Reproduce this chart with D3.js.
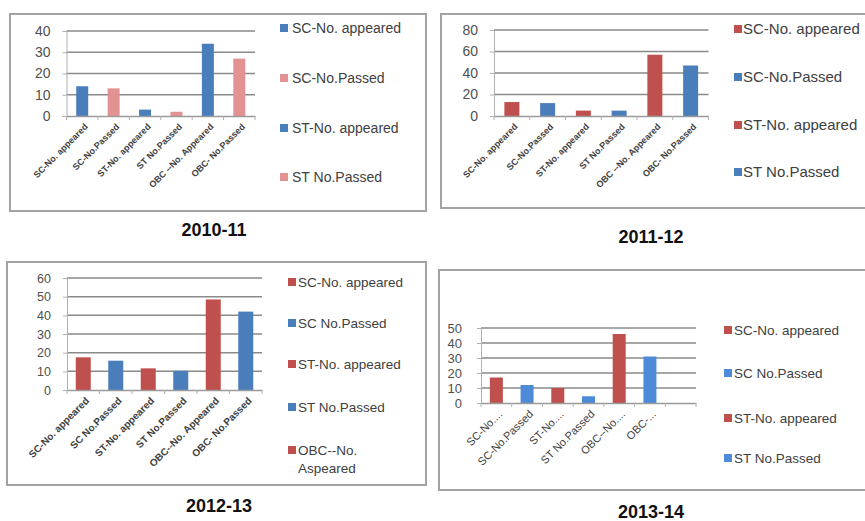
<!DOCTYPE html>
<html><head><meta charset="utf-8">
<script src="https://cdn.jsdelivr.net/npm/d3@7/dist/d3.min.js"></script>
<style>body{margin:0;background:#fff;} svg{display:block;}</style>
</head><body>
<svg id="c" width="865" height="521"></svg>
<script>
// ---- data ----
const years = ["2010-11", "2011-12", "2012-13", "2013-14"];

const cats1011 = ["SC-No. appeared", "SC-No.Passed", "ST-No. appeared", "ST No.Passed", "OBC --No. Appeared", "OBC- No.Passed"];
const vals1011 = [14, 13, 3, 2, 34, 27];
const ticks1011 = [0, 10, 20, 30, 40];
const legend1011 = ["SC-No. appeared", "SC-No.Passed", "ST-No. appeared", "ST No.Passed"];

const cats1112 = ["SC-No. appeared", "SC-No.Passed", "ST-No. appeared", "ST No.Passed", "OBC --No. Appeared", "OBC- No.Passed"];
const vals1112 = [13, 12, 5, 5, 57, 47];
const ticks1112 = [0, 20, 40, 60, 80];
const legend1112 = ["SC-No. appeared", "SC-No.Passed", "ST-No. appeared", "ST No.Passed"];

const cats1213 = ["SC-No. appeared", "SC No.Passed", "ST-No. appeared", "ST No.Passed", "OBC--No. Appeared", "OBC- No.Passed"];
const vals1213 = [17.5, 15.7, 11.6, 10.3, 48.5, 42];
const ticks1213 = [0, 10, 20, 30, 40, 50, 60];
const legend1213 = ["SC-No. appeared", "SC No.Passed", "ST-No. appeared", "ST No.Passed", "OBC--No.|Aspeared"];

const cats1314 = ["SC-No....", "SC-No.Passed", "ST-No....", "ST No.Passed", "OBC--No....", "OBC-...", ""];
const vals1314 = [17, 12, 10, 4.5, 46, 31, null];
const ticks1314 = [0, 10, 20, 30, 40, 50];
const legend1314 = ["SC-No. appeared", "SC No.Passed", "ST-No. appeared", "ST No.Passed"];

// ---- styles ----
const BLUE = "#4a7ebb", PINK = "#e39294", RED = "#c0504d", BLUE4 = "#4d8bd9";

const panels = [
  { title: years[0], cats: cats1011, vals: vals1011, ticks: ticks1011, legend: legend1011,
    colors: [BLUE, PINK, BLUE, PINK, BLUE, PINK], legColors: [BLUE, PINK, BLUE, PINK],
    frame: [10, 14, 416, 197], px: [66.5, 255], py: [116, 31], barW: 12,
    tickFont: 14, tickGap: 16, xFont: 9, xBold: true,
    legSq: 280, legTx: 292, legY: [28, 78, 128, 177], legFont: 14,
    tx: 214, ty: 236, tFont: 18 },
  { title: years[1], cats: cats1112, vals: vals1112, ticks: ticks1112, legend: legend1112,
    colors: [RED, BLUE, RED, BLUE, RED, BLUE], legColors: [RED, BLUE, RED, BLUE],
    frame: [441, 14, 440, 194], px: [494, 708.5], py: [116, 30], barW: 15,
    tickFont: 14, tickGap: 16, xFont: 9, xBold: true,
    legSq: 734, legTx: 743, legY: [29, 77, 125, 172], legFont: 15,
    tx: 651, ty: 243, tFont: 18 },
  { title: years[2], cats: cats1213, vals: vals1213, ticks: ticks1213, legend: legend1213,
    colors: [RED, BLUE, RED, BLUE, RED, BLUE], legColors: [RED, BLUE, RED, BLUE, RED],
    frame: [7, 262, 419, 223], px: [67, 262], py: [390, 278], barW: 15,
    tickFont: 12.5, tickGap: 16, xFont: 10, xBold: true,
    legSq: 288, legTx: 298, legY: [282, 323, 364, 407, 450], legFont: 13.5,
    tx: 219, ty: 512, tFont: 18 },
  { title: years[3], cats: cats1314, vals: vals1314, ticks: ticks1314, legend: legend1314,
    colors: [RED, BLUE4, RED, BLUE4, RED, BLUE4, RED], legColors: [RED, BLUE4, RED, BLUE4],
    frame: [439, 270, 440, 220], px: [481, 696], py: [403, 328], barW: 13,
    tickFont: 13, tickGap: 19, xFont: 11, xBold: false,
    legSq: 724, legTx: 734, legY: [330, 373, 418, 458], legFont: 13.5,
    tx: 651, ty: 518, tFont: 18 }
];

const svg = d3.select("#c");
const FONT = "'Liberation Sans', Arial, sans-serif";

panels.forEach(p => {
  const g = svg.append("g");
  // frame
  g.append("rect").attr("x", p.frame[0]).attr("y", p.frame[1])
    .attr("width", p.frame[2]).attr("height", p.frame[3])
    .attr("fill", "#fff").attr("stroke", "#a3a3a3").attr("stroke-width", 2);

  const x = d3.scaleBand().domain(p.cats.map((c, i) => i)).range(p.px).padding(0);
  const y = d3.scaleLinear().domain([0, d3.max(p.ticks)]).range(p.py);

  // gridlines
  g.append("g").selectAll("line").data(p.ticks.filter(t => t > 0)).join("line")
    .attr("x1", p.px[0]).attr("x2", p.px[1])
    .attr("y1", d => y(d)).attr("y2", d => y(d))
    .attr("stroke", "#8a8a8a").attr("stroke-width", 1.5);

  // y axis
  const ya = g.append("g").attr("transform", `translate(${p.px[0]},0)`)
    .call(d3.axisLeft(y).tickValues(p.ticks).tickSize(4).tickPadding(p.tickGap - 4).tickFormat(d3.format("d")));
  ya.select(".domain").attr("stroke", "#b0b0b0");
  ya.selectAll(".tick line").attr("stroke", "#b0b0b0");
  ya.selectAll("text").attr("font-family", FONT).attr("font-size", p.tickFont).attr("fill", "#505050");

  // bars
  g.append("g").selectAll("rect").data(p.vals.map((v, i) => ({ v, i })).filter(d => d.v != null)).join("rect")
    .attr("x", d => x(d.i) + x.bandwidth() / 2 - p.barW / 2)
    .attr("width", p.barW)
    .attr("y", d => y(d.v))
    .attr("height", d => y(0) - y(d.v))
    .attr("fill", d => p.colors[d.i]);

  // x axis
  const xa = g.append("g").attr("transform", `translate(0,${p.py[0]})`)
    .call(d3.axisBottom(x).tickSize(0).tickFormat(""));
  xa.select(".domain").attr("stroke", "#9a9a9a").attr("stroke-width", 1.5);
  // band boundary ticks
  g.append("g").selectAll("line").data(d3.range(p.cats.length + 1)).join("line")
    .attr("x1", i => p.px[0] + i * x.step()).attr("x2", i => p.px[0] + i * x.step())
    .attr("y1", p.py[0]).attr("y2", p.py[0] + 4)
    .attr("stroke", "#b0b0b0");

  // x labels
  g.append("g").selectAll("text").data(p.cats.map((c, i) => ({ c, i }))).join("text")
    .attr("transform", d => `translate(${x(d.i) + x.bandwidth() / 2 + 4},${p.py[0] + 9}) rotate(-45)`)
    .attr("text-anchor", "end").attr("dy", "0.35em")
    .attr("font-family", FONT).attr("font-size", p.xFont)
    .attr("font-weight", p.xBold ? "bold" : "normal")
    .attr("fill", "#404040").text(d => d.c);

  // legend
  const lg = g.append("g");
  p.legend.forEach((t, i) => {
    lg.append("rect").attr("x", p.legSq).attr("y", p.legY[i] - 4).attr("width", 8).attr("height", 8)
      .attr("fill", p.legColors[i]);
    const parts = t.split("|");
    parts.forEach((pt, j) => {
      lg.append("text").attr("x", p.legTx).attr("y", p.legY[i] + j * 18).attr("dy", "0.35em")
        .attr("font-family", FONT).attr("font-size", p.legFont).attr("fill", "#404040")
        .text(pt);
    });
  });

  // title
  g.append("text").attr("x", p.tx).attr("y", p.ty).attr("text-anchor", "middle")
    .attr("font-family", FONT).attr("font-weight", "bold").attr("font-size", p.tFont)
    .attr("fill", "#111").text(p.title);
});
</script>
</body></html>
